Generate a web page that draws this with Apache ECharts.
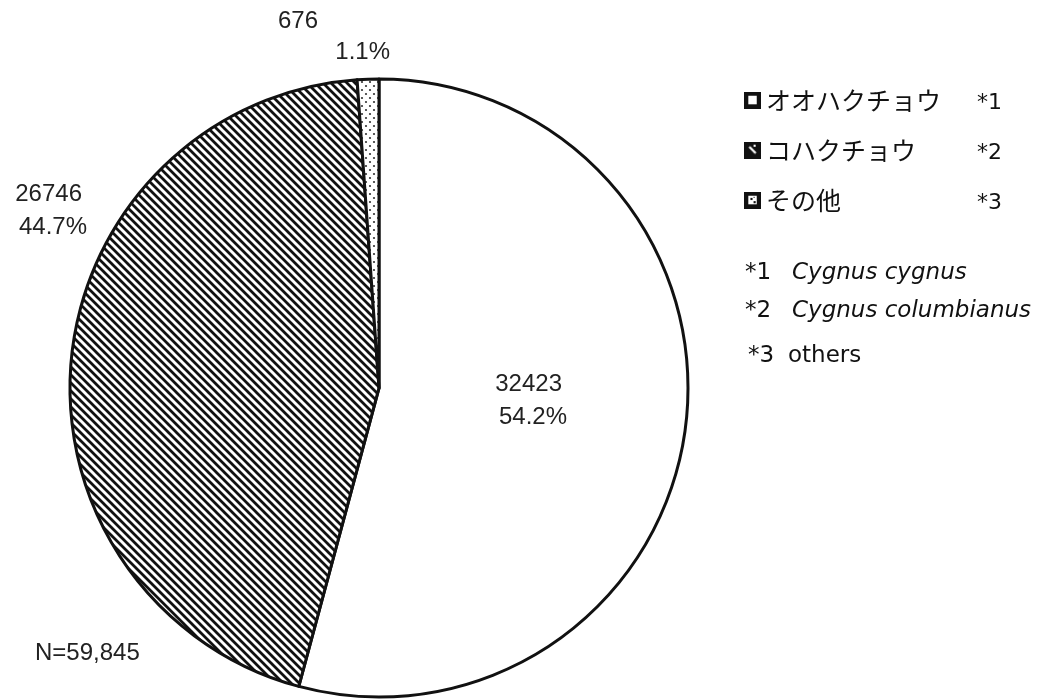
<!DOCTYPE html>
<html>
<head>
<meta charset="utf-8">
<script src="https://cdn.jsdelivr.net/npm/echarts@6/dist/echarts.min.js"></script>
<style>
html,body{margin:0;padding:0;background:#fff;}
#main{width:1047px;height:700px;}
</style>
</head>
<body>
<div id="main"></div>
<script>
// ---- data ----
const categories = ['オオハクチョウ', 'コハクチョウ', 'その他'];
const values = [32423, 26746, 676];
const legendMarks = ['*1', '*2', '*3'];
const noteMarks = ['*1', '*2', '*3'];
const noteNames = ['Cygnus cygnus', 'Cygnus columbianus', 'others'];
const noteItalic = [true, true, false];

// ---- patterns ----
function makeCanvas(w, h, draw) {
  const c = document.createElement('canvas');
  c.width = w; c.height = h;
  draw(c.getContext('2d'));
  return c;
}
const hatchTile = makeCanvas(8, 8, g => {
  g.fillStyle = '#fff'; g.fillRect(0, 0, 8, 8);
  g.strokeStyle = '#111'; g.lineWidth = 2.8; g.beginPath();
  for (let k = -8; k <= 8; k += 8) { g.moveTo(k - 1, -1); g.lineTo(k + 9, 9); }
  g.stroke();
});
const dotTile = makeCanvas(8, 8, g => {
  g.fillStyle = '#fff'; g.fillRect(0, 0, 8, 8);
  g.fillStyle = '#333';
  [[2, 2], [6, 6]].forEach(([x, y]) => { g.beginPath(); g.arc(x, y, 1.1, 0, Math.PI * 2); g.fill(); });
});
const fills = ['#ffffff', { image: hatchTile, repeat: 'repeat' }, { image: dotTile, repeat: 'repeat' }];

// legend icons
const icons = [
  makeCanvas(16, 16, g => { g.fillStyle = '#111'; g.fillRect(0, 0, 16, 16); g.fillStyle = '#fff'; g.fillRect(4, 4, 8, 8); }),
  makeCanvas(16, 16, g => { g.fillStyle = '#111'; g.fillRect(0, 0, 16, 16); g.strokeStyle = '#fff'; g.lineWidth = 2; g.beginPath(); g.moveTo(5, 5); g.lineTo(11, 11); g.stroke(); g.fillStyle = '#fff'; g.fillRect(9, 3, 2, 2); }),
  makeCanvas(16, 16, g => { g.fillStyle = '#111'; g.fillRect(0, 0, 16, 16); g.fillStyle = '#fff'; g.fillRect(4, 4, 8, 8); g.fillStyle = '#111'; g.fillRect(6, 6, 2, 2); g.fillRect(9, 9, 2, 2); g.fillRect(9, 5, 1, 1); })
].map(c => 'image://' + c.toDataURL());

const total = values.reduce((a, b) => a + b, 0);

// label placement (right edge x, center y) and value-line right padding
const labelX = [567, 87, 390];
const labelY = [400, 210, 37];
const valuePad = [5, 5, 72];

const chart = echarts.init(document.getElementById('main'), null, { renderer: 'canvas' });

const option = {
  backgroundColor: '#fff',
  animation: false,
  legend: {
    orient: 'vertical',
    left: 739,
    top: 80,
    itemWidth: 17,
    itemHeight: 17,
    itemGap: 20,
    selectedMode: false,
    data: categories.map((n, i) => ({ name: n, icon: icons[i] })),
    textStyle: {
      fontFamily: '"Noto Sans CJK JP", sans-serif',
      fontSize: 25,
      lineHeight: 30,
      color: '#111',
      padding: [0, 0, 0, 0]
    }
  },
  graphic: [
    ...legendMarks.map((m, i) => ({
      type: 'text', left: 977, top: 92 + i * 50,
      style: { text: m, font: '22px "DejaVu Sans", sans-serif', fill: '#111' }
    })),
    ...noteMarks.map((m, i) => ({
      type: 'text', left: i === 2 ? 748 : 745, top: [262, 300, 345][i],
      style: { text: m, font: '23px "DejaVu Sans", sans-serif', fill: '#111' }
    })),
    ...noteNames.map((m, i) => ({
      type: 'text', left: i === 2 ? 788 : 792, top: [262, 300, 345][i],
      style: { text: m, font: (noteItalic[i] ? 'italic ' : '') + '23px "DejaVu Sans", sans-serif', fill: '#111' }
    })),
    {
      type: 'text', left: 35, top: 641,
      style: { text: 'N=' + total.toLocaleString('en-US'), font: '24px "Liberation Sans", Arial, sans-serif', fill: '#222' }
    }
  ],
  series: [{
    type: 'pie',
    center: [379, 388],
    radius: 309,
    startAngle: 90,
    clockwise: true,
    percentPrecision: 1,
    avoidLabelOverlap: false,
    silent: true,
    emphasis: { disabled: true },
    itemStyle: { borderColor: '#111', borderWidth: 3 },
    label: {
      show: true,
      position: 'inside',
      fontFamily: '"Liberation Sans", Arial, sans-serif',
      fontSize: 24,
      color: '#222',
      lineHeight: 34,
      formatter: p => `{v${p.dataIndex}|${p.value}}\n{p|${p.percent.toFixed(1)}%}`,
      rich: {
        v0: { fontSize: 24, lineHeight: 34, padding: [0, valuePad[0], 0, 0] },
        v1: { fontSize: 24, lineHeight: 34, padding: [0, valuePad[1], 0, 0] },
        v2: { fontSize: 24, lineHeight: 30, padding: [0, valuePad[2], 0, 0] },
        p: { fontSize: 24, lineHeight: 32 }
      }
    },
    labelLine: { show: false },
    labelLayout: p => ({ x: labelX[p.dataIndex], y: labelY[p.dataIndex], align: 'right', verticalAlign: 'middle' }),
    data: categories.map((n, i) => ({ name: n, value: values[i], itemStyle: { color: fills[i] } }))
  }]
};
chart.setOption(option);
</script>
</body>
</html>
